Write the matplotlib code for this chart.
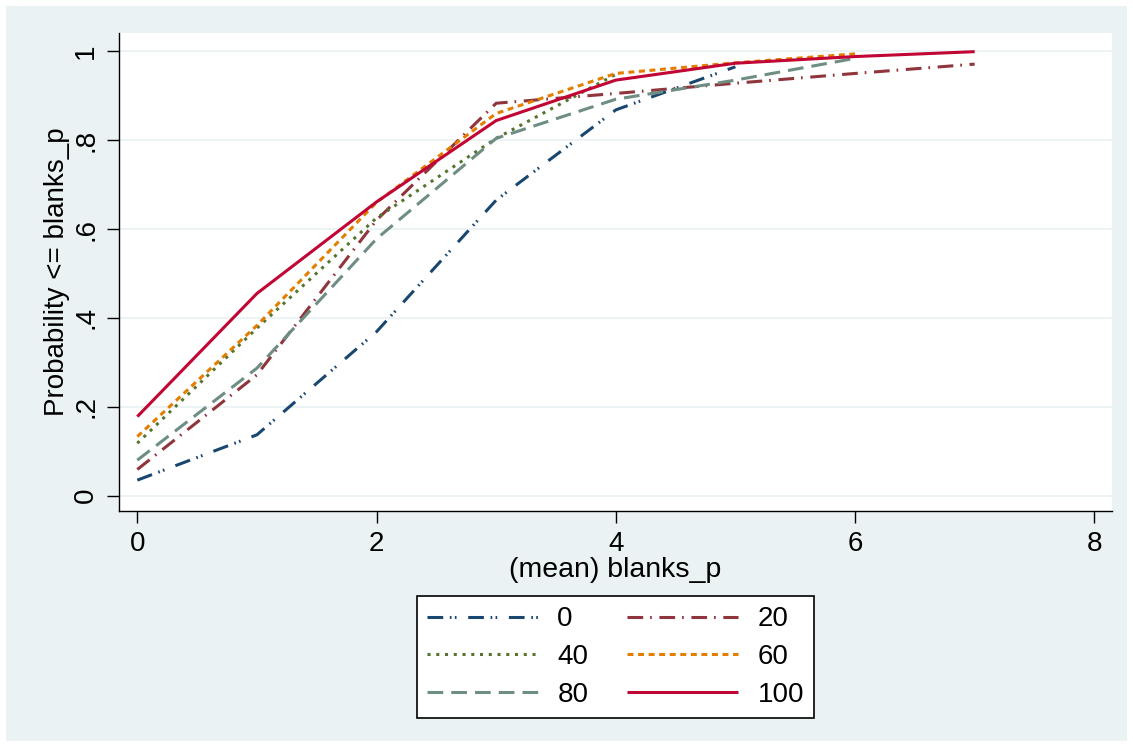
import matplotlib
matplotlib.use("Agg")
import matplotlib.pyplot as plt
from matplotlib.patches import Rectangle

plt.rcParams['font.family'] = ['Liberation Sans', 'DejaVu Sans']
plt.rcParams['lines.scale_dashes'] = False

# ---- data ----
groups = ["0", "20", "40", "60", "80", "100"]
x0 = [0, 1, 2, 3, 4, 5]
y0 = [0.035, 0.137, 0.369, 0.665, 0.868, 0.965]
x20 = [0, 1, 2, 3, 4, 5, 6, 7]
y20 = [0.059, 0.272, 0.620, 0.883, 0.905, 0.928, 0.950, 0.971]
x40 = [0, 1, 2, 3, 4]
y40 = [0.118, 0.377, 0.625, 0.804, 0.948]
x60 = [0, 1, 2, 3, 4, 5, 6]
y60 = [0.133, 0.383, 0.660, 0.860, 0.950, 0.974, 0.994]
x80 = [0, 1, 2, 3, 4, 5, 6]
y80 = [0.080, 0.287, 0.578, 0.804, 0.892, 0.935, 0.984]
x100 = [0, 1, 2, 3, 4, 5, 6, 7]
y100 = [0.178, 0.455, 0.661, 0.844, 0.935, 0.973, 0.988, 0.999]

xticks = [0, 2, 4, 6, 8]
xticklabels = ["0", "2", "4", "6", "8"]
yticks = [0, 0.2, 0.4, 0.6, 0.8, 1.0]
yticklabels = ["0", ".2", ".4", ".6", ".8", "1"]

colors = ["#1a476f", "#90353b", "#55752f", "#e37e00", "#6e8e84", "#c10534"]
dashes = [
    (0, (11.3, 4.8, 1.2, 2.4, 1.2, 8.4)),
    (0, (11.3, 5.0, 1.2, 5.5)),
    (0, (2.2, 4.1)),
    (0, (4.3, 3.3)),
    (0, (11.3, 5.8)),
    "solid",
]

W, H = 1133, 747
fig = plt.figure(figsize=(W / 100, H / 100), dpi=100, facecolor="white")
bg = Rectangle((6 / W, 6 / H), (W - 12) / W, (H - 12) / H,
               transform=fig.transFigure, facecolor="#eaf2f3",
               edgecolor="none", zorder=-10)
fig.patches.append(bg)

ax = fig.add_axes([119.3 / W, 1 - 511 / H, (1112 - 119.3) / W, (511 - 33) / H])
ax.set_zorder(1)
ax.set_facecolor("white")

series = [(x0, y0), (x20, y20), (x40, y40), (x60, y60), (x80, y80), (x100, y100)]
handles = []
for (xs, ys), c, ls, g in zip(series, colors, dashes, groups):
    ln, = ax.plot(xs, ys, color=c, linestyle=ls, linewidth=2.2, label=g,
                  solid_capstyle="butt", dash_capstyle="butt")
    handles.append(ln)

ax.set_xlim(-0.1505, 8.148)
ax.set_ylim(-0.0344, 1.041)
ax.set_xticks(xticks)
ax.set_xticklabels(xticklabels)
ax.set_yticks(yticks)
ax.set_yticklabels(yticklabels, rotation=90, va="center")
ax.tick_params(axis="both", direction="out", length=8.5, width=1.0,
               color="black", labelsize=20, pad=6)
ax.grid(axis="y", color="#eaf2f3", linewidth=1.3)
ax.set_axisbelow(True)
for s in ["top", "right"]:
    ax.spines[s].set_visible(False)
for s in ["left", "bottom"]:
    ax.spines[s].set_linewidth(1.0)
    ax.spines[s].set_color("black")

ax.set_xlabel("(mean) blanks_p", fontsize=20.5, labelpad=0)
ax.set_ylabel("Probability <= blanks_p", fontsize=20, labelpad=2)

order = [0, 2, 4, 1, 3, 5]
leg = fig.legend([handles[i] for i in order], [groups[i] for i in order],
                 ncol=2, loc="center", bbox_to_anchor=(615.5 / W, 1 - 657 / H),
                 fontsize=20, frameon=True, fancybox=False, edgecolor="black",
                 facecolor="white", framealpha=1, handlelength=4.0,
                 handletextpad=0.7, columnspacing=1.4, labelspacing=0.42,
                 borderpad=0.36)
leg.get_frame().set_linewidth(1.2)

fig.savefig("out.png", dpi=100, facecolor="white")
